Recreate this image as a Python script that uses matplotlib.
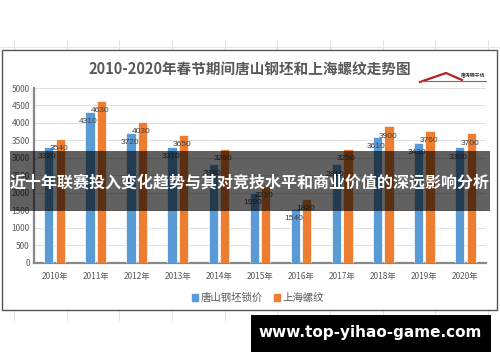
import matplotlib.pyplot as plt
import matplotlib.patches as mpatches
from matplotlib.lines import Line2D
import numpy as np

plt.rcParams['font.family'] = ['Noto Sans CJK SC', 'DejaVu Sans']

# data
years = ['2010年', '2011年', '2012年', '2013年', '2014年', '2015年',
         '2016年', '2017年', '2018年', '2019年', '2020年']
tangshan = [3320, 4310, 3720, 3310, 2830, 1990, 1540, 2810, 3610, 3430, 3300]
shanghai = [3540, 4630, 4030, 3650, 3260, 2210, 1820, 3250, 3900, 3760, 3700]
series_names = ['唐山钢坯锁价', '上海螺纹']

W, H = 500, 362
fig = plt.figure(figsize=(W / 100, H / 100), dpi=100)


def fx(x):
    return x / W


def fy(y):
    return 1 - y / H


# faint spreadsheet grid behind the chart
for gx in [14, 67, 119, 172, 225, 277, 330, 383, 435, 488]:
    fig.add_artist(Line2D([fx(gx), fx(gx)], [fy(40), fy(50)], color='#dddddd', lw=0.6, zorder=0.1))
    fig.add_artist(Line2D([fx(gx), fx(gx)], [fy(310), fy(320)], color='#dddddd', lw=0.6, zorder=0.1))
fig.add_artist(Line2D([0, 1], [fy(47), fy(47)], color='#e4e4e4', lw=0.6, zorder=0.1))

# chart frame
fig.add_artist(mpatches.Rectangle((fx(2), fy(310)), fx(495), (310 - 50) / H,
                                  facecolor='white', edgecolor='#555555', lw=1.0, zorder=0.2))

ax = fig.add_axes([fx(34), fy(262.5), fx(452), (262.5 - 88) / H])
ax.set_zorder(1)
x = np.arange(len(years))
bw = 0.225
b1 = ax.bar(x - 0.14, tangshan, bw, color='#5B9BD5', edgecolor='white', lw=0.5, zorder=3)
b2 = ax.bar(x + 0.14, shanghai, bw, color='#ED7D31', edgecolor='white', lw=0.5, zorder=3)

for bars, vals in [(b1, tangshan), (b2, shanghai)]:
    for r, v in zip(bars, vals):
        ax.annotate(str(v), (r.get_x() + r.get_width() / 2, v), xytext=(-1, -7),
                    textcoords='offset points', ha='center', va='center',
                    fontsize=6, color='#404040', family='Liberation Sans', zorder=4)

ax.set_xlim(-0.5, len(years) - 0.5)
ax.set_ylim(0, 5000)
ax.set_yticks(np.arange(0, 5001, 500))
ax.set_xticks(x)
ax.set_xticklabels(years)
ax.tick_params(axis='both', length=0, labelsize=6, colors='#595959', pad=3)
ax.tick_params(axis='x', pad=7)
ax.grid(axis='y', color='#e0e0e0', lw=0.7, zorder=0)
for s in ['top', 'right']:
    ax.spines[s].set_visible(False)
ax.spines['left'].set_color('#888888')
ax.spines['left'].set_linewidth(1.6)
ax.spines['bottom'].set_color('#888888')
ax.spines['bottom'].set_linewidth(1.6)
ax.patch.set_alpha(0)

fig.text(fx(250), fy(69), '2010-2020年春节期间唐山钢坯和上海螺纹走势图',
         ha='center', va='center', fontsize=10.5, fontweight='bold', color='#595959', zorder=2)

# small logo top right
fig.add_artist(Line2D([fx(420), fx(446), fx(462)], [fy(82), fy(73), fy(80)],
                      color='#b22222', lw=1.6, zorder=2))
fig.add_artist(Line2D([fx(420), fx(486)], [fy(81), fy(81)], color='#8b6b3a', lw=0.8, zorder=2))
fig.text(fx(473), fy(76), '唐涛钢干线', ha='center', va='center', fontsize=3.5,
         fontweight='bold', color='#333333', zorder=2)

# legend
handles = [mpatches.Patch(color='#5B9BD5'), mpatches.Patch(color='#ED7D31')]
leg = fig.legend(handles, series_names, loc='center', bbox_to_anchor=(fx(258), fy(298)),
                 ncol=2, frameon=False, fontsize=7.5, handlelength=0.6, handleheight=0.6,
                 handletextpad=0.3, columnspacing=1.0, labelcolor='#595959')
leg.set_zorder(2)

# overlay band with headline
fig.add_artist(mpatches.Rectangle((fx(10), fy(211)), fx(480), 60 / H,
                                  facecolor='black', alpha=0.62, edgecolor='none', zorder=5))
fig.text(fx(250), fy(183), '近十年联赛投入变化趋势与其对竞技水平和商业价值的深远影响分析',
         ha='center', va='center', fontsize=11.5, fontweight='bold', color='white', zorder=6)

# bottom banner
fig.add_artist(mpatches.Rectangle((fx(251), fy(352)), fx(240), 37 / H,
                                  facecolor='black', edgecolor='none', zorder=5))
fig.text(fx(370), fy(333), 'www.top-yihao-game.com', ha='center', va='center',
         fontsize=11, fontweight='bold', color='white', family='DejaVu Sans', zorder=6)

fig.savefig('out.png', dpi=100)
